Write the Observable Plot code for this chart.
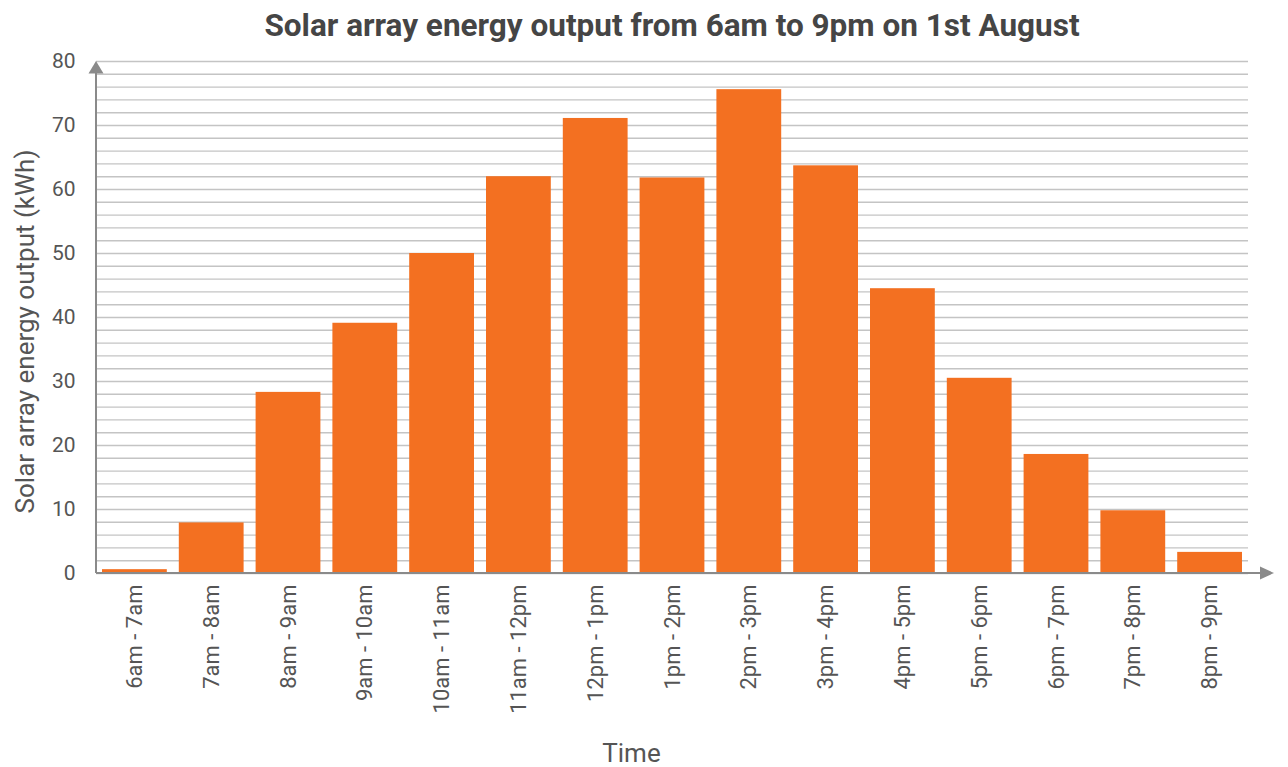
<!DOCTYPE html>
<html>
<head>
<meta charset="utf-8">
<script src="https://cdn.jsdelivr.net/npm/d3@7"></script>
<script src="https://cdn.jsdelivr.net/npm/@observablehq/plot@0.6"></script>
<style>
  body { margin: 0; background: #fff; font-family: Roboto, "Noto Sans", sans-serif; }
  #title {
    height: 46px; line-height: 52px; box-sizing: border-box;
    padding: 0 40px 0 96px; text-align: center;
    font-size: 31.5px; font-weight: 700; color: #454545; white-space: nowrap;
  }
</style>
</head>
<body>
<div id="title">Solar array energy output from 6am to 9pm on 1st August</div>
<div id="chart"></div>
<script>
// Hourly energy output of the solar array (kWh)
const periods = [
  "6am - 7am", "7am - 8am", "8am - 9am", "9am - 10am", "10am - 11am",
  "11am - 12pm", "12pm - 1pm", "1pm - 2pm", "2pm - 3pm", "3pm - 4pm",
  "4pm - 5pm", "5pm - 6pm", "6pm - 7pm", "7pm - 8pm", "8pm - 9pm"
];
const outputKWh = [0.6, 7.9, 28.3, 39.1, 50.0, 62.0, 71.1, 61.8, 75.6, 63.7, 44.5, 30.5, 18.6, 9.8, 3.3];
const yTicks = [0, 10, 20, 30, 40, 50, 60, 70, 80];
const gridLevels = [0, 2, 4, 6, 8, 10, 12, 14, 16, 18, 20, 22, 24, 26, 28, 30, 32, 34, 36, 38,
  40, 42, 44, 46, 48, 50, 52, 54, 56, 58, 60, 62, 64, 66, 68, 70, 72, 74, 76, 78, 80];

const rows = periods.map((period, i) => ({period, kwh: outputKWh[i]}));

const axisColor = "#8a8a8a";
const textColor = "#555555";

// Axis lines with arrowheads at the ends of both axes
function axisArrows(index, scales, values, dims) {
  const g = d3.create("svg:g");
  const left = dims.marginLeft;
  const right = dims.width - dims.marginRight;
  const y0 = scales.y(0);
  const yTop = scales.y(80);
  g.append("line")
    .attr("x1", left).attr("x2", right + 12)
    .attr("y1", y0).attr("y2", y0)
    .attr("stroke", axisColor).attr("stroke-width", 2);
  g.append("path")
    .attr("d", `M${right + 12},${y0 - 6.5}L${right + 26},${y0}L${right + 12},${y0 + 6.5}Z`)
    .attr("fill", axisColor);
  g.append("line")
    .attr("x1", left).attr("x2", left)
    .attr("y1", y0).attr("y2", yTop + 12)
    .attr("stroke", axisColor).attr("stroke-width", 2);
  g.append("path")
    .attr("d", `M${left - 7.5},${yTop + 12.5}L${left},${yTop}L${left + 7.5},${yTop + 12.5}Z`)
    .attr("fill", axisColor);
  return g.node();
}

const chart = Plot.plot({
  width: 1288,
  height: 721,
  marginTop: 15,
  marginBottom: 194,
  marginLeft: 96,
  marginRight: 40,
  style: {fontFamily: "Roboto, 'Noto Sans', sans-serif", fontSize: "20px", color: textColor, background: "#fff"},
  x: {domain: periods, padding: 0, round: false},
  y: {domain: [0, 80]},
  marks: [
    Plot.gridY(gridLevels, {stroke: "#c4c4c4", strokeOpacity: 1, strokeWidth: 1.4}),
    Plot.barY(rows, {x: "period", y: "kwh", fill: "#f37021", insetLeft: 6, insetRight: 6}),
    axisArrows,
    Plot.axisY({ticks: yTicks, tickSize: 0, tickPadding: 21, fontSize: 21, fill: textColor, label: null}),
    Plot.axisX({tickRotate: -90, tickSize: 0, tickPadding: 11, fontSize: 22, fill: textColor, label: null}),
    Plot.text(["Solar array energy output (kWh)"], {
      frameAnchor: "left", textAnchor: "middle", lineAnchor: "middle",
      rotate: -90, dx: -71, dy: 14, fontSize: 26, fill: textColor
    }),
    Plot.text(["Time"], {
      frameAnchor: "bottom", textAnchor: "middle", lineAnchor: "middle",
      dx: -41, dy: 180, fontSize: 26, fill: textColor
    })
  ]
});

document.getElementById("chart").appendChild(chart);
</script>
</body>
</html>
